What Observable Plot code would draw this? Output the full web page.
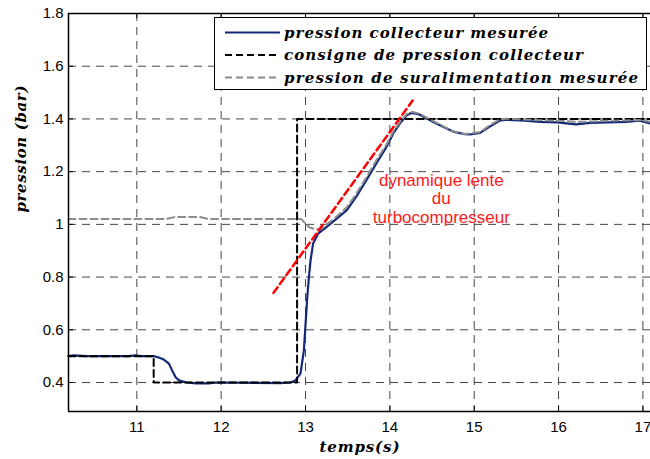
<!DOCTYPE html>
<html><head><meta charset="utf-8">
<script src="https://cdn.jsdelivr.net/npm/d3@7"></script>
<script src="https://cdn.jsdelivr.net/npm/@observablehq/plot@0.6"></script>
<style>
body{margin:0;background:#fff;}
#wrap{position:relative;width:650px;height:459px;overflow:hidden;background:#fff;}
#legend{position:absolute;left:214px;top:17px;width:433px;height:73px;border:1px solid #000;background:#fff;box-sizing:border-box;}
</style></head><body><div id="wrap"></div>
<script>
// ---- data ----
const xTicks = [11, 12, 13, 14, 15, 16, 17];
const yTicks = [0.4, 0.6, 0.8, 1.0, 1.2, 1.4, 1.6, 1.8];

const tCollecteur = [10.19, 10.25, 10.3, 10.4, 10.9, 10.98, 11.05, 11.2, 11.26, 11.32, 11.38, 11.42, 11.46, 11.5, 11.59, 11.7, 11.85, 11.95, 12.7, 12.82, 12.88, 12.94, 12.98, 13.0, 13.02, 13.04, 13.06, 13.09, 13.15, 13.2, 13.25, 13.37, 13.49, 13.6, 13.72, 13.84, 13.96, 14.04, 14.12, 14.2, 14.26, 14.35, 14.55, 14.75, 14.89, 14.95, 15.07, 15.18, 15.3, 15.38, 15.6, 15.78, 15.99, 16.09, 16.21, 16.37, 16.57, 16.8, 16.96, 17.09];
const pCollecteur = [0.5, 0.503, 0.502, 0.5, 0.5, 0.503, 0.5, 0.5, 0.495, 0.487, 0.472, 0.445, 0.42, 0.408, 0.4, 0.397, 0.397, 0.4, 0.398, 0.4, 0.408, 0.434, 0.52, 0.62, 0.72, 0.8, 0.864, 0.927, 0.965, 0.978, 0.99, 1.022, 1.054, 1.104, 1.167, 1.231, 1.294, 1.345, 1.383, 1.414, 1.423, 1.417, 1.383, 1.352, 1.342, 1.341, 1.347, 1.37, 1.393, 1.397, 1.393, 1.389, 1.387, 1.383, 1.379, 1.385, 1.387, 1.389, 1.393, 1.383];

const tConsigne = [10.19, 11.2, 11.2, 12.9, 12.9, 17.09];
const pConsigne = [0.5, 0.5, 0.4, 0.4, 1.4, 1.4];

const tSural = [10.19, 11.35, 11.45, 11.75, 11.85, 12.95, 13.04, 13.12, 13.2, 13.25, 13.37, 13.49, 13.6, 13.72, 13.84, 13.96, 14.04, 14.12, 14.2, 14.26, 14.35, 14.55, 14.75, 14.89, 15.07, 15.18, 15.3, 15.38, 15.6, 15.78, 16.0, 16.2, 16.4, 16.57, 16.8, 16.96, 17.09];
const pSural = [1.02, 1.02, 1.028, 1.028, 1.02, 1.02, 0.99, 0.98, 0.985, 1.0, 1.03, 1.065, 1.115, 1.178, 1.243, 1.303, 1.352, 1.389, 1.418, 1.427, 1.42, 1.386, 1.353, 1.343, 1.35, 1.375, 1.398, 1.401, 1.398, 1.395, 1.393, 1.389, 1.39, 1.393, 1.394, 1.396, 1.389];

const tPente = [12.62, 14.27];
const pPente = [0.74, 1.47];

const annotation = {x: 14.61, y: 1.099, text: "dynamique lente\ndu\nturbocompresseur"};

const seriesNames = ["pression collecteur mesurée", "consigne de pression collecteur", "pression de suralimentation mesurée"];
const xLabel = "temps(s)";
const yLabel = "pression (bar)";
const xDomain = [10.19, 17.09];
const yDomain = [0.29, 1.8];

// ---- build ----
const zip = (t, p) => t.map((x, i) => ({x, y: p[i]}));
const W = 650, H = 459, mL = 68, mR = 0, mT = 13, mB = 48;
const pw = W - mL - mR, ph = H - mT - mB;
const serif = "'DejaVu Serif', 'Liberation Serif', serif";
const sans = "'Liberation Sans', Arial, sans-serif";

const chart = Plot.plot({
  width: W, height: H,
  marginLeft: mL, marginRight: mR, marginTop: mT, marginBottom: mB,
  style: {fontFamily: sans, fontSize: "15px", color: "#000", background: "#fff"},
  x: {domain: xDomain},
  y: {domain: yDomain},
  marks: [
    Plot.gridX(xTicks, {stroke: "#333", strokeOpacity: 0.9, strokeDasharray: "8,6", strokeWidth: 1}),
    Plot.gridY(yTicks, {stroke: "#333", strokeOpacity: 0.9, strokeDasharray: "8,6", strokeWidth: 1}),
    Plot.tickX(xTicks, {x: d => d, stroke: "#000", insetBottom: ph - 5}),
    Plot.tickX(xTicks, {x: d => d, stroke: "#000", insetTop: ph - 5}),
    Plot.tickY(yTicks, {y: d => d, stroke: "#000", insetRight: pw - 5}),
    Plot.line(zip(tCollecteur, pCollecteur), {x: "x", y: "y", stroke: "#12297a", strokeWidth: 2.2}),
    Plot.line(zip(tConsigne, pConsigne), {x: "x", y: "y", stroke: "#000", strokeWidth: 2, strokeDasharray: "7,4"}),
    Plot.line(zip(tSural, pSural), {x: "x", y: "y", stroke: "#8c8c8c", strokeWidth: 2, strokeDasharray: "7,4"}),
    Plot.line(zip(tPente, pPente), {x: "x", y: "y", stroke: "#ff0000", strokeWidth: 2.5, strokeDasharray: "7,4"}),
    Plot.text([annotation], {x: "x", y: "y", text: "text", fill: "#ff1a1a", fontSize: 17, lineHeight: 1.08, fontFamily: sans}),
    Plot.ruleY([yDomain[1]], {stroke: "#000", strokeWidth: 1.5}),
    Plot.ruleY([yDomain[0]], {stroke: "#000", strokeWidth: 1.5}),
    Plot.ruleX([xDomain[0]], {stroke: "#000", strokeWidth: 1.5}),
    Plot.axisX(xTicks, {tickSize: 0, tickPadding: 10, fontSize: 15, label: null}),
    Plot.axisY(yTicks, {tickSize: 0, tickPadding: 5, fontSize: 15, label: null, tickFormat: d3.format("~g")}),
    Plot.text([xLabel], {frameAnchor: "bottom", dy: 36, text: d => d, fontFamily: serif, fontStyle: "italic", fontWeight: "bold", fontSize: 15, lineAnchor: "middle"}),
    Plot.text([yLabel], {frameAnchor: "left", dx: -47, rotate: -90, text: d => d, fontFamily: serif, fontStyle: "italic", fontWeight: "bold", fontSize: 15, lineAnchor: "middle"})
  ]
});

// stretch the bold-italic labels like the original
d3.select(chart).selectAll("text").each(function() {
  const t = this.textContent;
  if (t === xLabel) { this.setAttribute("textLength", 80); this.setAttribute("lengthAdjust", "spacing"); }
  if (t === yLabel) { this.setAttribute("textLength", 127); this.setAttribute("lengthAdjust", "spacing"); }
});

const wrap = document.getElementById("wrap");
wrap.appendChild(chart);

// legend
const legend = document.createElement("div");
legend.id = "legend";
const styles = [
  {stroke: "#12297a", dash: null},
  {stroke: "#000", dash: "7,4"},
  {stroke: "#8c8c8c", dash: "7,4"}
];
const lengths = [264, 299, 354];
const ns = "http://www.w3.org/2000/svg";
const lsvg = document.createElementNS(ns, "svg");
lsvg.setAttribute("width", 431); lsvg.setAttribute("height", 71);
seriesNames.forEach((name, i) => {
  const cy = 14.5 + i * 22.5;
  const ln = document.createElementNS(ns, "line");
  ln.setAttribute("x1", 10); ln.setAttribute("x2", 65);
  ln.setAttribute("y1", cy); ln.setAttribute("y2", cy);
  ln.setAttribute("stroke", styles[i].stroke); ln.setAttribute("stroke-width", 2);
  if (styles[i].dash) ln.setAttribute("stroke-dasharray", styles[i].dash);
  lsvg.appendChild(ln);
  const tx = document.createElementNS(ns, "text");
  tx.setAttribute("x", 69); tx.setAttribute("y", cy + 5);
  tx.setAttribute("font-family", serif); tx.setAttribute("font-style", "italic");
  tx.setAttribute("font-weight", "bold"); tx.setAttribute("font-size", 15);
  tx.setAttribute("textLength", lengths[i]); tx.setAttribute("lengthAdjust", "spacing");
  tx.textContent = name;
  lsvg.appendChild(tx);
});
legend.appendChild(lsvg);
wrap.appendChild(legend);
</script></body></html>
